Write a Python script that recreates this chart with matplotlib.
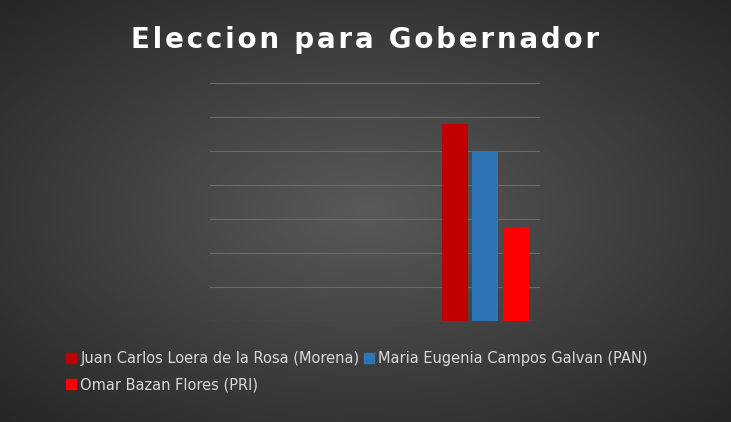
import matplotlib.pyplot as plt
import numpy as np
from matplotlib.patches import Patch

candidates = ['Juan Carlos Loera de la Rosa (Morena)',
              'Maria Eugenia Campos Galvan (PAN)',
              'Omar Bazan Flores (PRI)']
votes = [5.8, 5.0, 2.76]
colors = ['#c00000', '#2e75b6', '#ff0000']

fig = plt.figure(figsize=(7.31, 4.22), dpi=100)

# radial gradient background, dark grey
bg = fig.add_axes([0, 0, 1, 1], zorder=-1)
yy, xx = np.mgrid[-1:1:300j, -1:1:500j]
r = np.clip(np.sqrt(xx**2 + yy**2) / 1.41, 0, 1)
shade = 0.35 - 0.20 * r
img = np.dstack([shade, shade, shade])
bg.imshow(img, aspect='auto', extent=[0, 1, 0, 1])
bg.set_axis_off()

ax = fig.add_axes([0.287, 0.240, 0.452, 0.563])
ax.patch.set_alpha(0)
offsets = [-1, 0, 1]
for off, v, c, lab in zip(offsets, votes, colors, candidates):
    ax.bar(off, v, width=0.85, color=c, label=lab, zorder=2)
ax.set_xlim(-9.02, 1.8)
ax.set_ylim(0, 7)
ax.set_yticks(range(0, 8))
ax.grid(axis='y', color='#6a6a6a', linewidth=0.8, zorder=0)
ax.tick_params(left=False, bottom=False, labelleft=False, labelbottom=False)
for s in ax.spines.values():
    s.set_visible(False)

title = '\u200a'.join('Eleccion para Gobernador')
fig.text(0.5, 0.905, title, ha='center', va='center', color='white',
         fontsize=20, fontweight='bold')

order = [0, 2, 1]
handles = [Patch(color=colors[i]) for i in order]
fig.legend(handles, [candidates[i] for i in order], ncol=2, loc='upper left',
           bbox_to_anchor=(0.072, 0.2), frameon=False, fontsize=10.5,
           labelcolor='#d9d9d9', handlelength=0.7, handleheight=0.7,
           handletextpad=0.3, columnspacing=0.3, labelspacing=0.8)

fig.savefig('out.png', dpi=100)
